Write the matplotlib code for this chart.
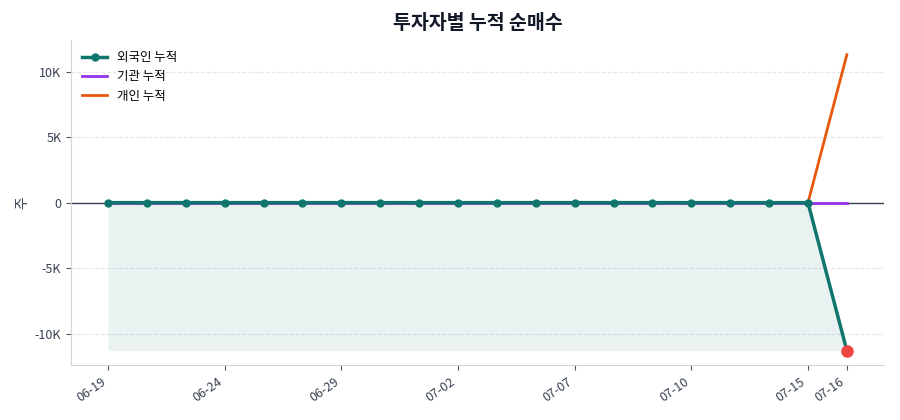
import matplotlib
matplotlib.use("Agg")
import matplotlib.pyplot as plt
import numpy as np

plt.rcParams['font.family'] = ['Noto Sans CJK KR', 'DejaVu Sans']

dates = ["06-19", "06-22", "06-23", "06-24", "06-25", "06-26", "06-29", "06-30",
         "07-01", "07-02", "07-03", "07-06", "07-07", "07-08", "07-09", "07-10",
         "07-13", "07-14", "07-15", "07-16"]
foreign_cum = [0] * 19 + [-11300]
inst_cum = [0] * 19 + [0]
indiv_cum = [0] * 19 + [11300]
tick_idx = [0, 3, 6, 9, 12, 15, 18, 19]


def kfmt(v, _):
    if v == 0:
        return "0"
    return f"{v / 1000:.0f}K"


fig, ax = plt.subplots(figsize=(9, 4.2), dpi=100)
x = np.arange(len(dates))
f = np.array(foreign_cum)

ax.fill_between(x, f, f.min(), color="#0f766e", alpha=0.09, lw=0)
ax.axhline(0, color="#374151", lw=1, zorder=1)
ax.plot(x, inst_cum, color="#9333ea", lw=2, label="기관 누적", zorder=2)
ax.plot(x, indiv_cum, color="#ea580c", lw=2, label="개인 누적", zorder=2)
ax.plot(x, foreign_cum, color="#0f766e", lw=2.5, marker="o", ms=5,
        label="외국인 누적", zorder=3)
ax.plot(x[-1], foreign_cum[-1], "o", color="#ef4444", ms=8, zorder=4)

handles, labels = ax.get_legend_handles_labels()
order = [2, 0, 1]
ax.legend([handles[i] for i in order], [labels[i] for i in order],
          loc="upper left", frameon=False, fontsize=9)

ax.set_xticks(tick_idx)
ax.set_xticklabels([dates[i] for i in tick_idx], rotation=35, ha="right",
                   fontsize=9, color="#374151")
ax.yaxis.set_major_formatter(matplotlib.ticker.FuncFormatter(kfmt))
ax.set_yticks([-10000, -5000, 0, 5000, 10000])
ax.tick_params(axis="y", labelsize=9, colors="#374151")
ax.tick_params(colors="#4b5563", labelcolor="#374151")
ax.set_ylabel("주", fontsize=10, color="#374151")
ax.grid(axis="y", ls="--", color="#e5e7eb", lw=0.8)
ax.set_axisbelow(True)
for s in ["top", "right"]:
    ax.spines[s].set_visible(False)
for s in ["left", "bottom"]:
    ax.spines[s].set_color("#d1d5db")
ax.set_title("투자자별 누적 순매수", fontsize=14, fontweight="bold", color="#111827",
             pad=8)

fig.subplots_adjust(left=0.079, right=0.982, top=0.905, bottom=0.13)
fig.savefig("out.png")
